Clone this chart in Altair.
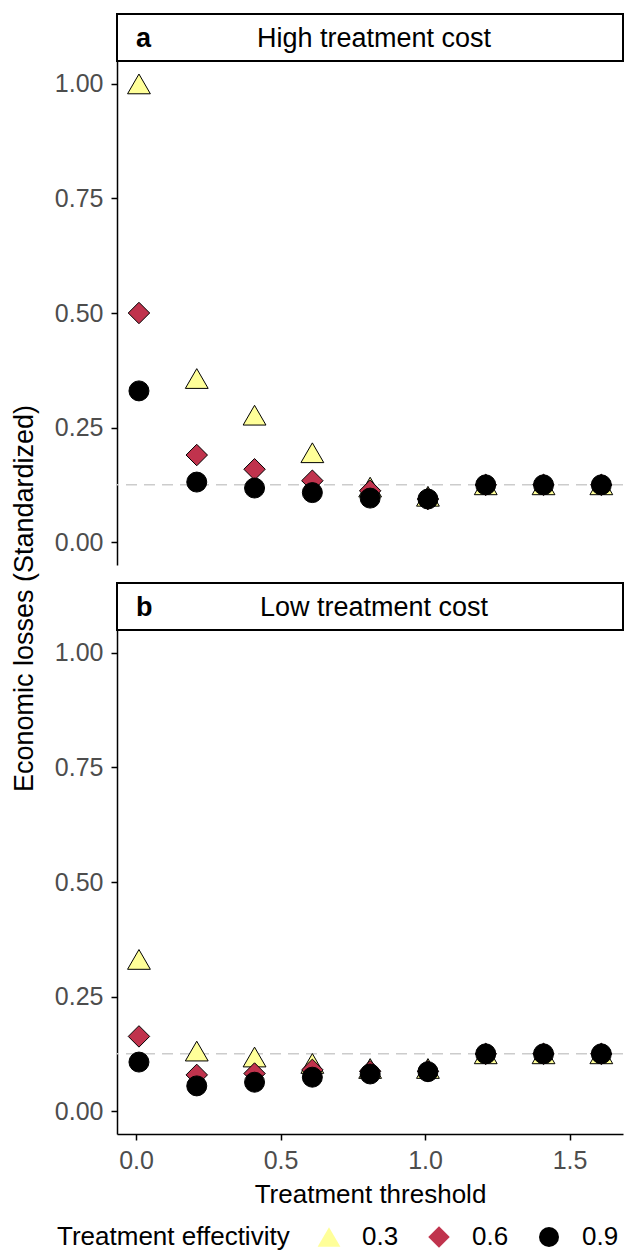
import altair as alt
import pandas as pd

# ---------------- data ----------------
thresholds = [0.01, 0.21, 0.41, 0.61, 0.81, 1.01, 1.21, 1.41, 1.61]
effectivity_levels = ["0.3", "0.6", "0.9"]

high_03 = [1.000, 0.357, 0.277, 0.195, 0.120, 0.100, 0.125, 0.125, 0.125]
high_06 = [0.500, 0.190, 0.159, 0.134, 0.112, 0.094, 0.125, 0.125, 0.125]
high_09 = [0.330, 0.131, 0.118, 0.108, 0.096, 0.094, 0.125, 0.125, 0.125]

low_03 = [0.331, 0.131, 0.118, 0.104, 0.093, 0.093, 0.125, 0.125, 0.125]
low_06 = [0.163, 0.079, 0.082, 0.090, 0.087, 0.087, 0.125, 0.125, 0.125]
low_09 = [0.107, 0.055, 0.063, 0.074, 0.081, 0.086, 0.125, 0.125, 0.125]

reference_level = [0.125]
panel_letters = ["a", "b"]
panel_titles = ["High treatment cost", "Low treatment cost"]
x_ticks = [0.0, 0.5, 1.0, 1.5]
y_ticks = [0.0, 0.25, 0.5, 0.75, 1.0]

shapes = ["triangle-up", "diamond", "circle"]
fills = ["#FFFF99", "#C0334D", "#000000"]
sizes = [520, 400, 300]


def make_df(series_list):
    rows = []
    for lvl, vals in zip(effectivity_levels, series_list):
        for t, v in zip(thresholds, vals):
            rows.append({"threshold": t, "loss": v, "eff": lvl})
    return pd.DataFrame(rows)


df_high = make_df([high_03, high_06, high_09])
df_low = make_df([low_03, low_06, low_09])
df_ref = pd.DataFrame({"loss": reference_level})

# ---------------- layout ----------------
PW, PH, SH, GAP = 506, 504, 47, 18
FONT = "Liberation Sans"
X_DOMAIN = [-0.066, 1.685]
Y_DOMAIN = [-0.05, 1.05]
STRIP_CENTER = 257


def panel(df, show_x, show_ytitle):
    x_axis = (
        alt.Axis(values=x_ticks, format=".1f", title="Treatment threshold",
                 labelPadding=8, titlePadding=8)
        if show_x else None
    )
    if show_ytitle:
        y_axis = alt.Axis(
            values=y_ticks, format=".2f",
            title="Economic losses (Standardized)",
            labelPadding=8, titleFontSize=27,
            titleX=-79, titleY=537, titleAngle=270, titleBaseline="bottom",
            titleAlign="center",
        )
    else:
        y_axis = alt.Axis(values=y_ticks, format=".2f", title=None, labelPadding=8)
    xs = alt.Scale(domain=X_DOMAIN, nice=False, zero=False)
    ys = alt.Scale(domain=Y_DOMAIN, nice=False, zero=False)

    rule = alt.Chart(df_ref).mark_rule(
        color="#CCCCCC", strokeDash=[11, 7], strokeWidth=1.6
    ).encode(y=alt.Y("loss:Q", scale=ys, axis=y_axis))

    pts = alt.Chart(df).mark_point(
        filled=True, stroke="black", strokeWidth=1, opacity=1
    ).encode(
        x=alt.X("threshold:Q", scale=xs, axis=x_axis),
        y=alt.Y("loss:Q", scale=ys, axis=y_axis),
        shape=alt.Shape("eff:N", scale=alt.Scale(domain=effectivity_levels, range=shapes),
                        title="Treatment effectivity"),
        fill=alt.Fill("eff:N", scale=alt.Scale(domain=effectivity_levels, range=fills),
                      title="Treatment effectivity"),
        size=alt.Size("eff:N", scale=alt.Scale(domain=effectivity_levels, range=sizes),
                      title="Treatment effectivity"),
        order=alt.Order("eff:N", sort="ascending"),
    )
    return alt.layer(rule, pts).properties(width=PW, height=PH)


def strip(i, offset):
    d = pd.DataFrame({"letter": [panel_letters[i]], "title": [panel_titles[i]]})
    base = alt.Chart(d)
    box = base.mark_rect(fill="white", stroke="black", strokeWidth=2).encode(
        x=alt.value(0), x2=alt.value(PW), y=alt.value(offset), y2=alt.value(offset + SH))
    letter = base.mark_text(align="left", baseline="middle", fontSize=27,
                            fontWeight="bold", font=FONT, color="black").encode(
        text="letter:N", x=alt.value(19), y=alt.value(offset + SH / 2 + 1))
    title = base.mark_text(align="center", baseline="middle", fontSize=27,
                           font=FONT, color="black").encode(
        text="title:N", x=alt.value(STRIP_CENTER), y=alt.value(offset + SH / 2 + 1))
    return alt.layer(box, letter, title).properties(width=PW, height=offset + SH)


chart = alt.vconcat(
    strip(0, 0),
    panel(df_high, False, True),
    strip(1, GAP),
    panel(df_low, True, False),
    spacing=0, bounds="flush",
).properties(
    padding={"left": 2, "top": 5, "right": 0, "bottom": 0}
).configure_view(
    strokeWidth=0
).configure_axis(
    labelFont=FONT, titleFont=FONT, labelFontSize=25, titleFontSize=26,
    labelColor="#4D4D4D", titleColor="black", titleFontWeight="normal",
    domainColor="black", domainWidth=1.5, tickColor="black", tickWidth=1.5,
    tickSize=6, grid=False,
).configure_legend(
    orient="none", legendX=-60, legendY=1210, direction="horizontal",
    titleOrient="left", titleFont=FONT, labelFont=FONT, titleFontSize=26,
    labelFontSize=26, titleFontWeight="normal", titleColor="black",
    labelColor="black", labelOffset=20, columnPadding=27, titlePadding=26,
    symbolStrokeColor="black", symbolStrokeWidth=1, titleBaseline="middle",
    titleLimit=500,
)

chart.save("out.html", embed_options={"renderer": "svg", "actions": False})
